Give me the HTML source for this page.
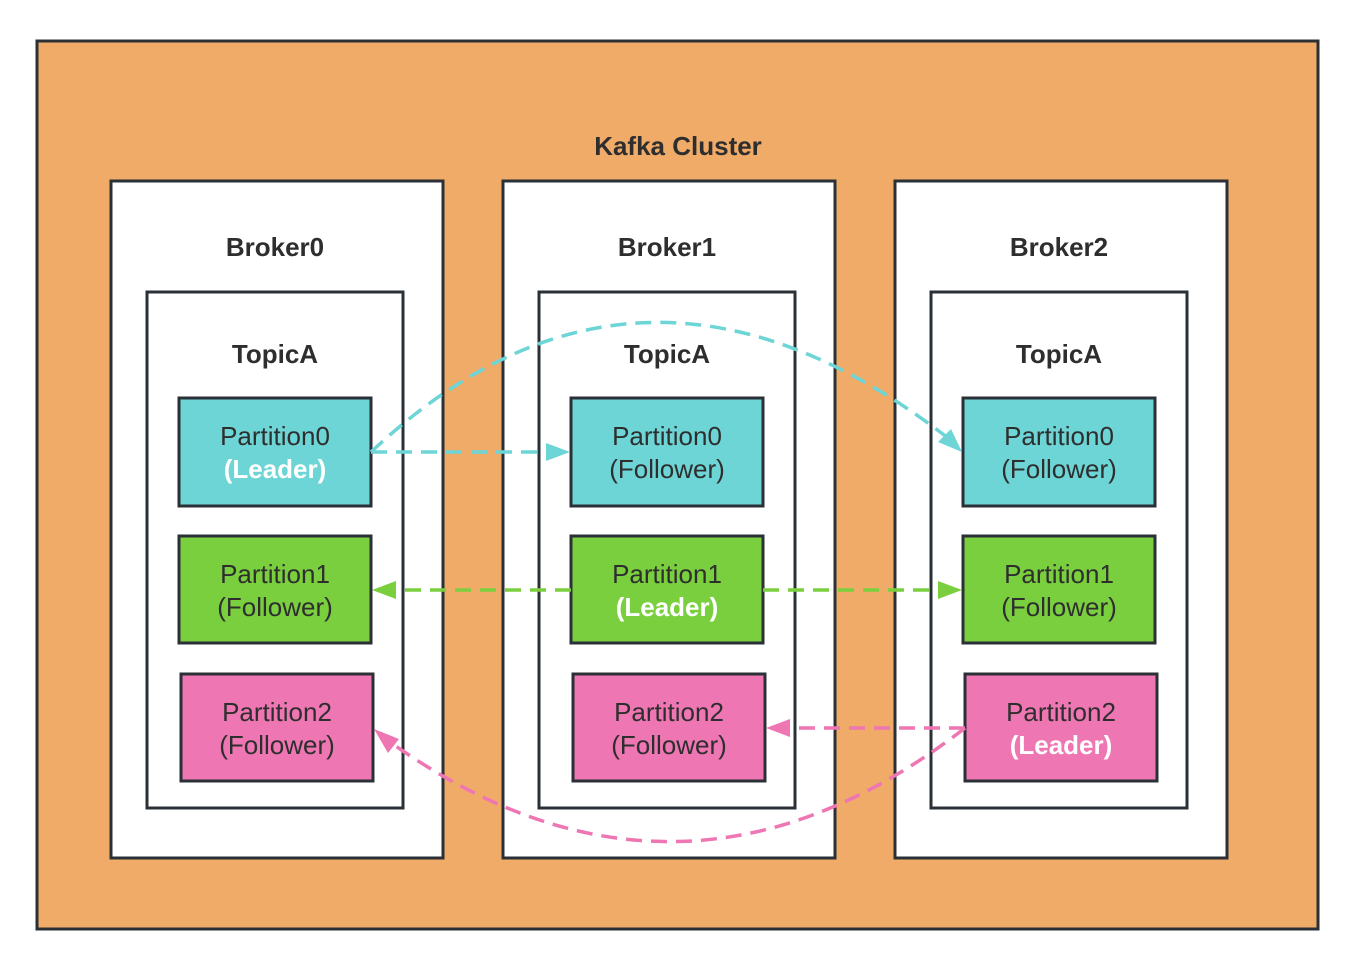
<!DOCTYPE html>
<html><head><meta charset="utf-8"><style>
html,body{margin:0;padding:0;background:#fff;}
svg{display:block;}
text{font-family:"Liberation Sans","DejaVu Sans",sans-serif;fill:#2e2e2e;text-anchor:middle;}
.b{font-weight:bold;font-size:26px;}
.p{font-size:26px;}
</style></head><body>
<svg width="1355" height="969" viewBox="0 0 1355 969" xmlns="http://www.w3.org/2000/svg">
<rect x="37" y="41" width="1281" height="888" fill="#F0AB69" stroke="#2a3035" stroke-width="3"/>
<text x="678" y="155" class="b">Kafka Cluster</text>
<g stroke="#2a3035" stroke-width="3" fill="#fff">
<rect x="111" y="181" width="332" height="677"/>
<rect x="503" y="181" width="332" height="677"/>
<rect x="895" y="181" width="332" height="677"/>
<rect x="147" y="292" width="256" height="516"/>
<rect x="539" y="292" width="256" height="516"/>
<rect x="931" y="292" width="256" height="516"/>
</g>
<text x="275" y="256" class="b">Broker0</text>
<text x="667" y="256" class="b">Broker1</text>
<text x="1059" y="256" class="b">Broker2</text>
<text x="275" y="363" class="b">TopicA</text>
<text x="667" y="363" class="b">TopicA</text>
<text x="1059" y="363" class="b">TopicA</text>
<g stroke="#2a3035" stroke-width="3">
<rect x="179" y="398" width="192" height="108" fill="#6DD5D6"/>
<rect x="571" y="398" width="192" height="108" fill="#6DD5D6"/>
<rect x="963" y="398" width="192" height="108" fill="#6DD5D6"/>
<rect x="179" y="536" width="192" height="107" fill="#7ACF3E"/>
<rect x="571" y="536" width="192" height="107" fill="#7ACF3E"/>
<rect x="963" y="536" width="192" height="107" fill="#7ACF3E"/>
<rect x="181" y="674" width="192" height="107" fill="#EE76B3"/>
<rect x="573" y="674" width="192" height="107" fill="#EE76B3"/>
<rect x="965" y="674" width="192" height="107" fill="#EE76B3"/>
</g>
<text x="275" y="445" class="p">Partition0</text><text x="275" y="478" class="p" style="fill:#fff;font-weight:bold">(Leader)</text>
<text x="667" y="445" class="p">Partition0</text><text x="667" y="478" class="p">(Follower)</text>
<text x="1059" y="445" class="p">Partition0</text><text x="1059" y="478" class="p">(Follower)</text>
<text x="275" y="583" class="p">Partition1</text><text x="275" y="616" class="p">(Follower)</text>
<text x="667" y="583" class="p">Partition1</text><text x="667" y="616" class="p" style="fill:#fff;font-weight:bold">(Leader)</text>
<text x="1059" y="583" class="p">Partition1</text><text x="1059" y="616" class="p">(Follower)</text>
<text x="277" y="721" class="p">Partition2</text><text x="277" y="754" class="p">(Follower)</text>
<text x="669" y="721" class="p">Partition2</text><text x="669" y="754" class="p">(Follower)</text>
<text x="1061" y="721" class="p">Partition2</text><text x="1061" y="754" class="p" style="fill:#fff;font-weight:bold">(Leader)</text>
<g fill="none" stroke-width="3.5" stroke-dasharray="16,9">
<path d="M371,452 L550,452" stroke="#6DD5D6"/>
<path d="M371,452 Q640,200 948,438" stroke="#6DD5D6"/>
<path d="M571,590 L392,590" stroke="#7ACF3E"/>
<path d="M763,590 L942,590" stroke="#7ACF3E"/>
<path d="M965,728 L786,728" stroke="#EE76B3"/>
<path d="M965,728 Q680,948 390,742" stroke="#EE76B3"/>
</g>
<path d="M570,452 L546,443 L546,461 z" fill="#6DD5D6"/>
<path d="M962,452 L938,442 L951,429 z" fill="#6DD5D6"/>
<path d="M372,590 L396,581 L396,599 z" fill="#7ACF3E"/>
<path d="M962,590 L938,581 L938,599 z" fill="#7ACF3E"/>
<path d="M766,728 L790,719 L790,737 z" fill="#EE76B3"/>
<path d="M374,729 L399,739 L388,753 z" fill="#EE76B3"/>
</svg>
</body></html>
